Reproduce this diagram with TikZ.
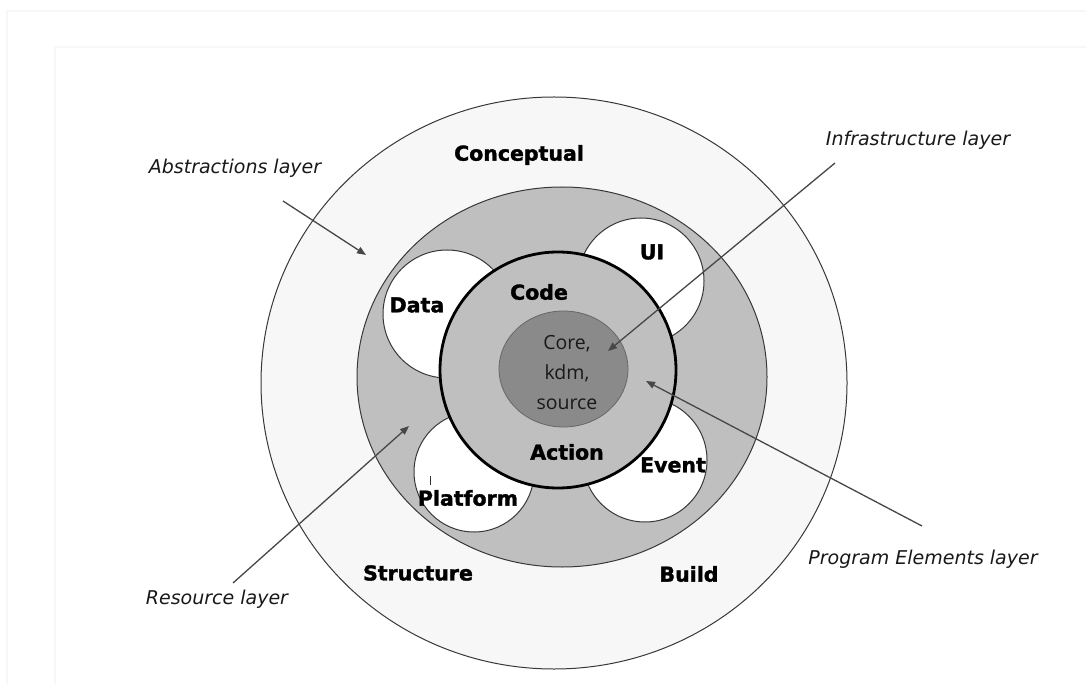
\documentclass[tikz,border=0pt]{standalone}
\usepackage{fontspec}
\setmainfont{DejaVu Sans}
\newfontfamily\heavyfont{DejaVu Sans}[BoldFeatures={FakeBold=1.6}]
\newfontfamily\corefont{Open Sans}
\usetikzlibrary{arrows.meta}

\definecolor{ringlight}{HTML}{F7F7F7}
\definecolor{ringgray}{HTML}{BFBFBF}
\definecolor{coregray}{HTML}{8A8A8A}
\definecolor{edgegray}{HTML}{383838}

\tikzset{
  layertxt/.style={font=\heavyfont\bfseries\fontsize{20.5}{24}\selectfont, inner sep=0pt},
  calloutxt/.style={font=\itshape\fontsize{19}{22}\selectfont, inner sep=0pt, text=black!90},
  coretxt/.style={font=\corefont\fontsize{19.5}{30}\selectfont, align=center, inner sep=0pt, text=black!90},
  pointer/.style={draw=black!72, line width=1.3pt, -{Triangle[length=9pt,width=7pt]}},
  thinedge/.style={draw=edgegray, line width=1pt},
  frameline/.style={draw=black!3, line width=1.5pt}
}

\begin{document}
\begin{tikzpicture}[x=1pt, y=-1pt]
  \useasboundingbox (0,0) rectangle (1086,684);
  \fill[white] (0,0) rectangle (1086,684);

  % faint page frames
  \draw[frameline] (1090,11) -- (7,11) -- (7,690);
  \draw[frameline] (1090,47) -- (55,47) -- (55,690);

  % outer ring (abstractions)
  \draw[thinedge, fill=ringlight] (554,383) ellipse [x radius=293pt, y radius=286pt];
  % resource ring
  \draw[thinedge, fill=ringgray] (562,377) ellipse [x radius=205pt, y radius=190pt];

  % resource circles
  \draw[thinedge, fill=white] (447,314) circle [radius=64pt];
  \draw[thinedge, fill=white] (641,281) circle [radius=63pt];
  \draw[thinedge, fill=white] (474,472) circle [radius=60pt];
  \draw[thinedge, fill=white] (645,460) circle [radius=62pt];

  % program elements circle
  \draw[draw=black, line width=2.8pt, fill=ringgray] (558,370) circle [radius=118pt];
  % infrastructure core
  \draw[draw=black!60, line width=0.8pt, fill=coregray] (563.5,369) ellipse [x radius=64.5pt, y radius=58pt];

  % labels inside the rings
  \node[layertxt] (conceptual) at (519,155) {Conceptual};
  \node[layertxt] (structure) at (418,573) {Structure};
  \node[layertxt] (build) at (689,574) {Build};
  \node[layertxt] (data) at (417,305) {Data};
  \node[layertxt] (ui) at (652,252) {UI};
  \node[layertxt] (platform) at (468,498) {Platform};
  \node[layertxt] (event) at (673,465) {Event};
  \node[layertxt] (code) at (539,292) {Code};
  \node[layertxt] (action) at (567,452) {Action};
  \node[coretxt] (core) at (567,373) {Core,\\kdm,\\source};
  \draw[black!80, line width=0.8pt] (430,476) -- (430,485);

  % callout labels
  \node[calloutxt] (abstr) at (235,168) {Abstractions layer};
  \node[calloutxt] (infra) at (918,140) {Infrastructure layer};
  \node[calloutxt] (resrc) at (217,599) {Resource layer};
  \node[calloutxt] (progel) at (923,559) {Program Elements layer};

  % callout pointers
  \coordinate (abstr-from) at (283,201);
  \coordinate (abstr-to) at (366,255);
  \coordinate (infra-from) at (835,163);
  \coordinate (infra-to) at (608,351);
  \coordinate (resrc-from) at (233,583);
  \coordinate (resrc-to) at (409,426);
  \coordinate (progel-from) at (922,526);
  \coordinate (progel-to) at (646,381);

  \draw[pointer] (abstr-from) -- (abstr-to);
  \draw[pointer] (infra-from) -- (infra-to);
  \draw[pointer] (resrc-from) -- (resrc-to);
  \draw[pointer] (progel-from) -- (progel-to);
\end{tikzpicture}
\end{document}
